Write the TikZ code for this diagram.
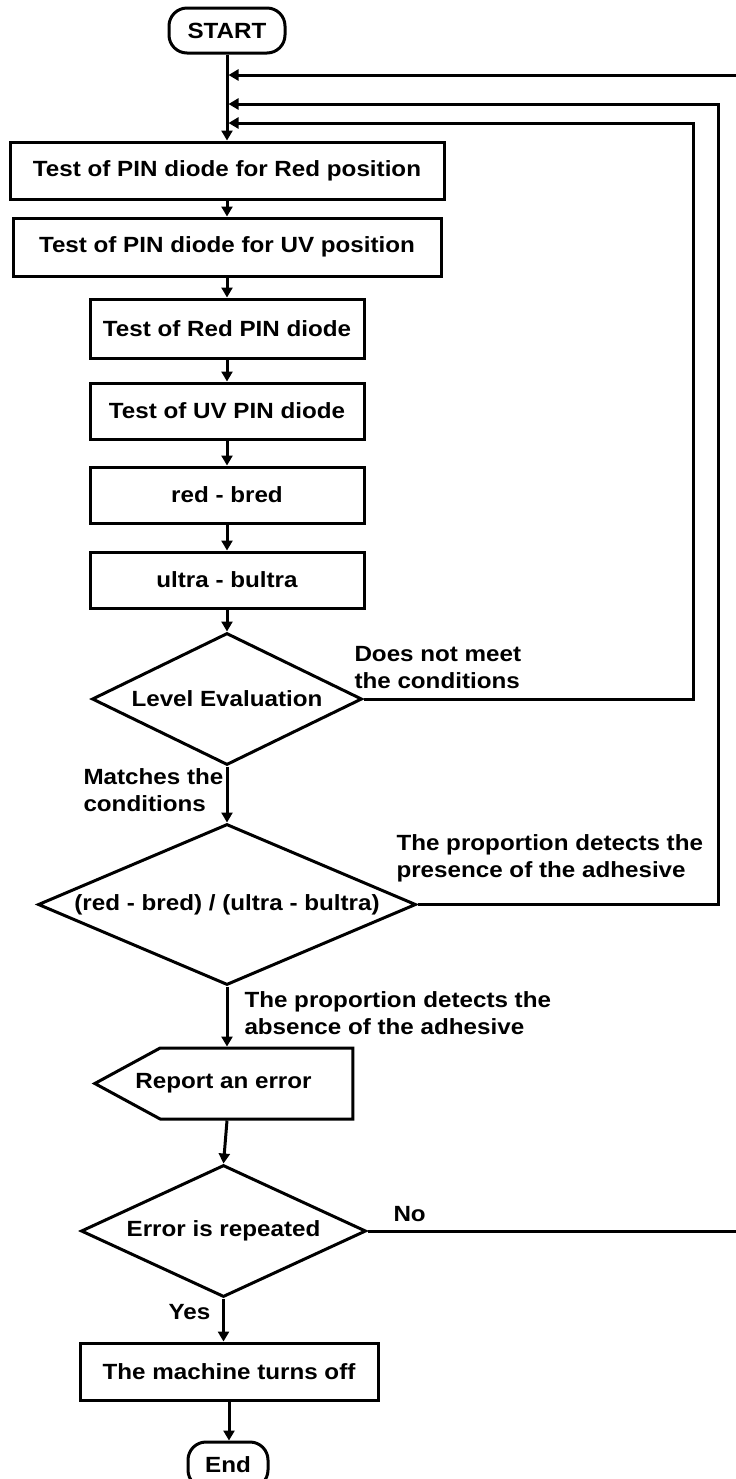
\documentclass[tikz,border=0pt]{standalone}
\usepackage{fontspec}
\setmainfont[FakeStretch=1.1]{Liberation Sans}
\usetikzlibrary{arrows.meta,shapes.geometric,shapes.symbols}

\begin{document}
\begin{tikzpicture}[x=0.5pt,y=-0.5pt,line width=1.5pt,
  font=\fontsize{11}{13.5}\selectfont\bfseries,
  every node/.style={inner sep=0pt},
  term/.style={draw,rectangle,rounded corners=9pt},
  box/.style={draw,rectangle,minimum width=137pt,minimum height=28pt},
  cond/.style={draw,diamond},
  lbl/.style={align=left,anchor=north west},
  arr/.style={-{Triangle[length=5pt,width=5.5pt]}}]

\useasboundingbox (0,0) rectangle (735,1479);

% Parameters
\def\xc{227}

% Start
\node[term,minimum width=58pt,minimum height=22.5pt] (start) at (\xc,30.5) {START};

% Tests
\node[box,minimum width=217pt,minimum height=28.5pt] (redpos) at (\xc,170.5) {Test of PIN diode for Red position};
\node[box,minimum width=214pt,minimum height=29pt] (uvpos) at (\xc,247) {Test of PIN diode for UV position};
\node[box,minimum height=29.5pt] (redpin) at (\xc,328.5) {Test of Red PIN diode};
\node[box] (uvpin) at (\xc,411) {Test of UV PIN diode};
\node[box] (red) at (\xc,495) {red - bred};
\node[box] (ultra) at (\xc,580) {ultra - bultra};

% Decisions
\node[cond,aspect=2.05,minimum width=135pt,minimum height=66pt] (level) at (\xc,699) {Level Evaluation};
\node[cond,aspect=2.35,minimum width=189pt,minimum height=80.5pt] (ratio) at (\xc,904.5) {(red - bred) / (ultra - bultra)};
% text pulled left inside the signal body
\node[draw,signal,signal to=west,signal pointer angle=57,minimum width=129pt,minimum height=35.5pt] (report) at (256.5,1083.5) {\hspace*{-33pt}Report an error};
\node[cond,aspect=2.16,minimum width=142.5pt,minimum height=66pt] (repeat) at (223.5,1231) {Error is repeated};

% Stop
\node[box,minimum width=149pt,minimum height=28.5pt] (off) at (229,1371.5) {The machine turns off};
\node[term,minimum width=40pt,minimum height=23pt] (end) at (228,1465) {End};

% Labels
\node[lbl] (notmet) at (353,645) {Does not meet\\the conditions};
\node[lbl] (matches) at (82,767) {Matches the\\conditions};
\node[lbl] (present) at (395,833) {The proportion detects the\\presence of the adhesive};
\node[lbl] (absent) at (243,990) {The proportion detects the\\absence of the adhesive};
\node[lbl] (no) at (392,1205) {No};
\node[lbl] (yes) at (167,1303) {Yes};

% Main flow
\draw[arr] (start) -- (redpos);
\draw[arr] (redpos) -- (uvpos);
\draw[arr] (uvpos) -- (redpin);
\draw[arr] (redpin) -- (uvpin);
\draw[arr] (uvpin) -- (red);
\draw[arr] (red) -- (ultra);
\draw[arr] (ultra) -- (level);
\draw[arr] (level) -- (ratio);
\draw[arr] (ratio) -- (ratio |- report.north);
\draw[arr] (ratio |- report.south) -- (repeat.north);
\draw[arr] (repeat) -- (repeat |- off.north);
\draw[arr] (off) -- (off |- end.north);

% Return lines
\coordinate (j1) at (\xc+1.5,75);
\coordinate (j2) at (\xc+1.5,104);
\coordinate (j3) at (\xc+1.5,123);
\coordinate (c1) at (760,75);
\coordinate (c2) at (718,104);
\coordinate (c3) at (693,123);
\draw[arr] (repeat.east) -| (c1) -- (j1);
\draw[arr] (ratio.east) -| (c2) -- (j2);
\draw[arr] (level.east) -| (c3) -- (j3);
\end{tikzpicture}
\end{document}
